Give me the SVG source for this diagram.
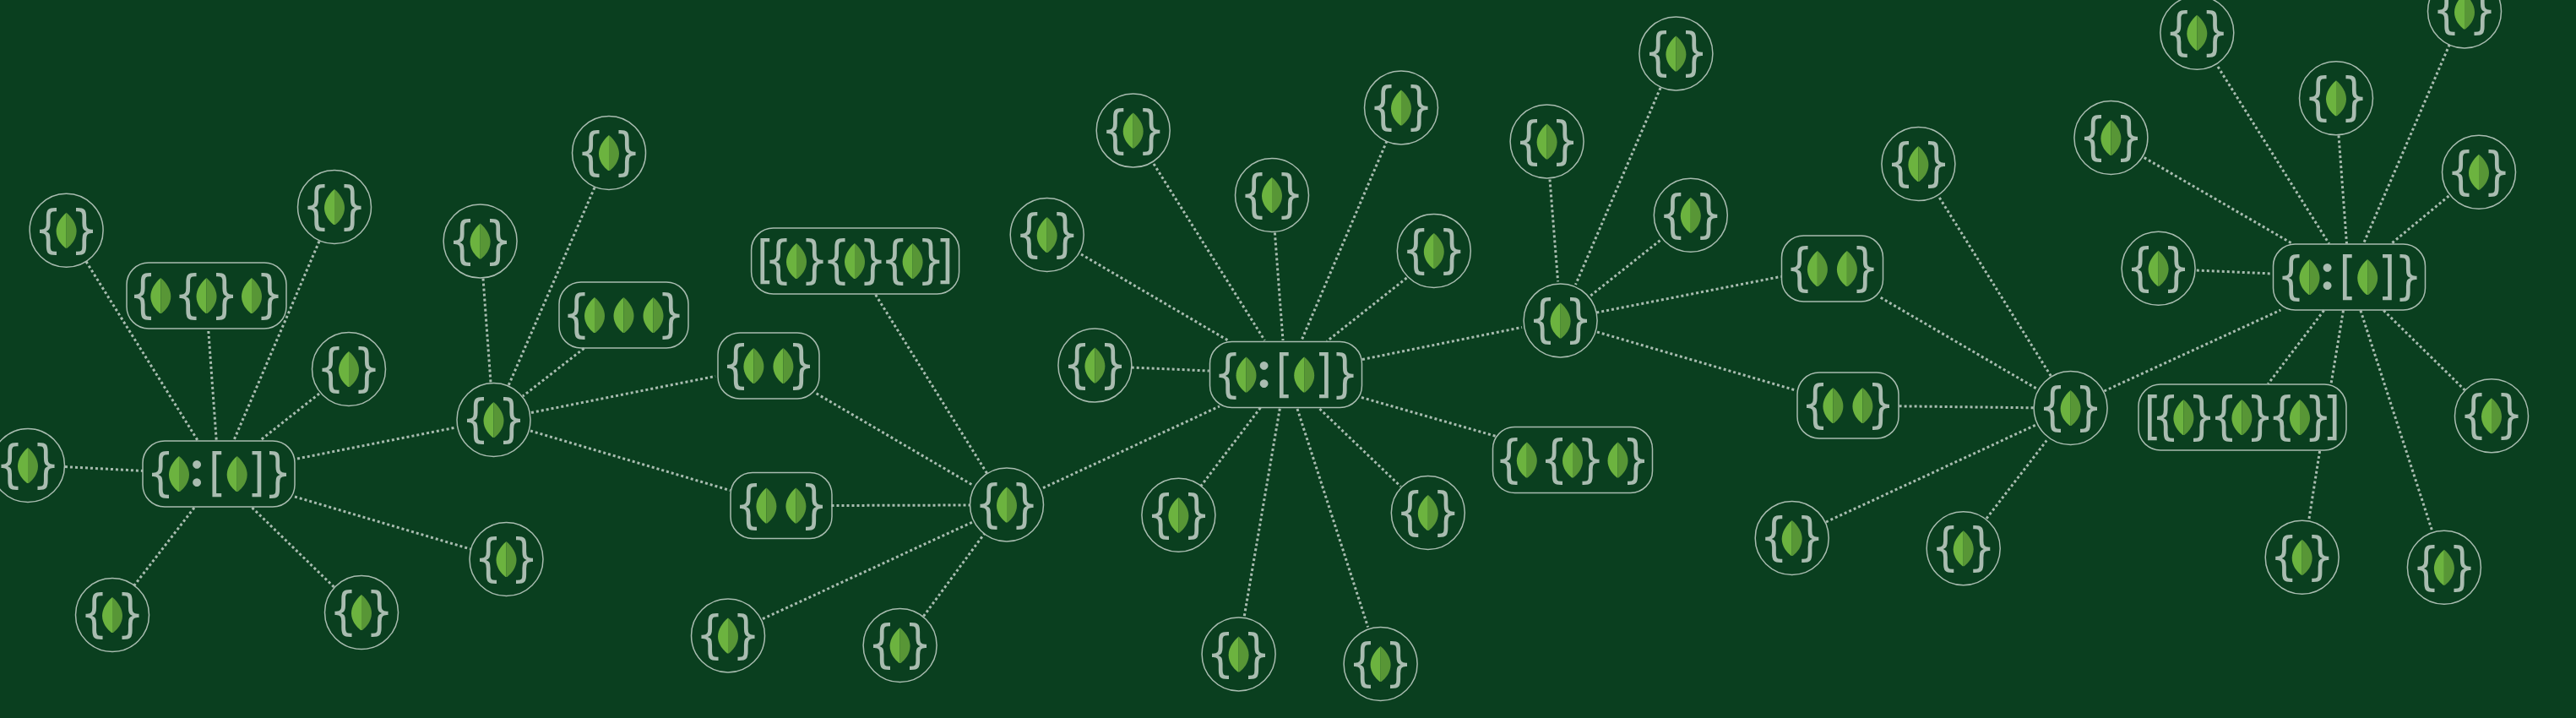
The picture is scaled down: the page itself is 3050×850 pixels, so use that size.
<svg xmlns="http://www.w3.org/2000/svg" width="3050" height="850" viewBox="0 0 3050 850">
<style>
.c,.r{fill:none;stroke:#a9bcb0;stroke-width:1.5}
.t{font-family:"DejaVu Sans",sans-serif;font-size:61px;fill:#a9bcb0;text-anchor:middle;transform:scaleX(.85)}
.k{font-family:"Lato",sans-serif;font-weight:900;font-size:60px;fill:#a9bcb0;text-anchor:middle}
#links line{stroke:#a9bcb0;stroke-width:3;stroke-dasharray:3 3;fill:none}
</style>
<defs>
<g id="leaf"><path fill="#6cb33f" d="M0-21C-7-15-12-7-12 1C-12 10-6 17-1 21L0 21Z"/><path fill="#589636" d="M0-21C7-15 12-7 12 1C12 10 6 17 1 21L0 21Z"/></g>
</defs>
<rect width="3050" height="850" fill="#0a3f1f"/>
<g id="links">
<line x1="102" y1="309.6" x2="233.8" y2="521"/>
<line x1="246.8" y1="392" x2="256.2" y2="521"/>
<line x1="378" y1="285.6" x2="277" y2="521"/>
<line x1="378" y1="466" x2="308.5" y2="521"/>
<line x1="77" y1="552.6" x2="169" y2="557.4"/>
<line x1="352" y1="543" x2="540" y2="506"/>
<line x1="349" y1="588" x2="557" y2="650"/>
<line x1="230" y1="601" x2="159" y2="693"/>
<line x1="298.5" y1="601" x2="395.5" y2="695"/>
<line x1="572" y1="329.7" x2="581" y2="453"/>
<line x1="704" y1="222" x2="602" y2="456.5"/>
<line x1="691.5" y1="412.4" x2="619" y2="469"/>
<line x1="629" y1="488.5" x2="847" y2="445.4"/>
<line x1="628" y1="510" x2="864.6" y2="580.6"/>
<line x1="966.6" y1="465.8" x2="1152" y2="574.5"/>
<line x1="1036.7" y1="349" x2="1169" y2="561"/>
<line x1="984.5" y1="598.5" x2="1148.7" y2="598"/>
<line x1="903" y1="732.7" x2="1153" y2="617.3"/>
<line x1="1093.4" y1="729.6" x2="1165.6" y2="631.6"/>
<line x1="1235" y1="577.6" x2="1444" y2="481"/>
<line x1="1280" y1="301" x2="1454" y2="403"/>
<line x1="1366" y1="194" x2="1497.4" y2="403"/>
<line x1="1509.4" y1="275.5" x2="1519" y2="403"/>
<line x1="1339.7" y1="435" x2="1431.7" y2="439"/>
<line x1="1492.4" y1="482.7" x2="1421.8" y2="575.5"/>
<line x1="1515.3" y1="483.7" x2="1473" y2="731"/>
<line x1="1642" y1="167" x2="1541" y2="403"/>
<line x1="1665.5" y1="329" x2="1571" y2="404"/>
<line x1="1613" y1="425.5" x2="1802" y2="387.5"/>
<line x1="1612" y1="470.5" x2="1771.4" y2="516.5"/>
<line x1="1562.5" y1="484" x2="1658.5" y2="576"/>
<line x1="1536" y1="484" x2="1619.7" y2="742.5"/>
<line x1="1835" y1="212.5" x2="1844.6" y2="333.3"/>
<line x1="1966" y1="104" x2="1865.5" y2="337"/>
<line x1="1965.5" y1="284.6" x2="1882.4" y2="350.7"/>
<line x1="1890.3" y1="370" x2="2108.8" y2="327.4"/>
<line x1="1891" y1="393" x2="2127" y2="462.3"/>
<line x1="2226.7" y1="352.3" x2="2411.8" y2="460.3"/>
<line x1="2296.3" y1="234" x2="2428.2" y2="445"/>
<line x1="2248.6" y1="480.8" x2="2408.3" y2="482.8"/>
<line x1="2162" y1="618" x2="2411.8" y2="502.4"/>
<line x1="2352" y1="613.9" x2="2423.2" y2="521.5"/>
<line x1="2491.4" y1="463" x2="2700.3" y2="367"/>
<line x1="2538.7" y1="186.6" x2="2714.3" y2="288.5"/>
<line x1="2626" y1="79" x2="2757.6" y2="288.5"/>
<line x1="2769" y1="160.3" x2="2778.5" y2="288.5"/>
<line x1="2900.3" y1="52.6" x2="2798.4" y2="288.5"/>
<line x1="2899.4" y1="232" x2="2831.2" y2="288.5"/>
<line x1="2600.8" y1="320" x2="2690.4" y2="324"/>
<line x1="2751.6" y1="367.5" x2="2685.4" y2="454.5"/>
<line x1="2774.5" y1="367.5" x2="2760" y2="454.5"/>
<line x1="2746.6" y1="534" x2="2733.7" y2="615.8"/>
<line x1="2794.9" y1="367.5" x2="2879.5" y2="628"/>
<line x1="2822.2" y1="367.5" x2="2918.2" y2="461.7"/>
</g>
<g id="n1" transform="translate(78.6,272.7)"><circle class="c" r="43.5"/><text class="t" x="-25.3 25.3" y="19">{}</text><use href="#leaf"/></g>
<g id="n2" transform="translate(396,245)"><circle class="c" r="43.5"/><text class="t" x="-25.3 25.3" y="19">{}</text><use href="#leaf"/></g>
<g id="n3" transform="translate(413,437)"><circle class="c" r="43.5"/><text class="t" x="-25.3 25.3" y="19">{}</text><use href="#leaf"/></g>
<g id="n4" transform="translate(33,551)"><circle class="c" r="43.5"/><text class="t" x="-25.3 25.3" y="19">{}</text><use href="#leaf"/></g>
<g id="n5" transform="translate(599.5,662)"><circle class="c" r="43.5"/><text class="t" x="-25.3 25.3" y="19">{}</text><use href="#leaf"/></g>
<g id="n6" transform="translate(428,725)"><circle class="c" r="43.5"/><text class="t" x="-25.3 25.3" y="19">{}</text><use href="#leaf"/></g>
<g id="n7" transform="translate(133,728)"><circle class="c" r="43.5"/><text class="t" x="-25.3 25.3" y="19">{}</text><use href="#leaf"/></g>
<g id="n8" transform="translate(584.5,497)"><circle class="c" r="43.5"/><text class="t" x="-25.3 25.3" y="19">{}</text><use href="#leaf"/></g>
<g id="n9" transform="translate(568.6,285.6)"><circle class="c" r="43.5"/><text class="t" x="-25.3 25.3" y="19">{}</text><use href="#leaf"/></g>
<g id="n10" transform="translate(721,181)"><circle class="c" r="43.5"/><text class="t" x="-25.3 25.3" y="19">{}</text><use href="#leaf"/></g>
<g id="n11" transform="translate(1192,597.5)"><circle class="c" r="43.5"/><text class="t" x="-25.3 25.3" y="19">{}</text><use href="#leaf"/></g>
<g id="n12" transform="translate(862,752.5)"><circle class="c" r="43.5"/><text class="t" x="-25.3 25.3" y="19">{}</text><use href="#leaf"/></g>
<g id="n13" transform="translate(1065.6,764)"><circle class="c" r="43.5"/><text class="t" x="-25.3 25.3" y="19">{}</text><use href="#leaf"/></g>
<g id="n14" transform="translate(1341.7,154.6)"><circle class="c" r="43.5"/><text class="t" x="-25.3 25.3" y="19">{}</text><use href="#leaf"/></g>
<g id="n15" transform="translate(1506,231)"><circle class="c" r="43.5"/><text class="t" x="-25.3 25.3" y="19">{}</text><use href="#leaf"/></g>
<g id="n16" transform="translate(1239.7,278)"><circle class="c" r="43.5"/><text class="t" x="-25.3 25.3" y="19">{}</text><use href="#leaf"/></g>
<g id="n17" transform="translate(1296.4,432.6)"><circle class="c" r="43.5"/><text class="t" x="-25.3 25.3" y="19">{}</text><use href="#leaf"/></g>
<g id="n18" transform="translate(1395.4,609.7)"><circle class="c" r="43.5"/><text class="t" x="-25.3 25.3" y="19">{}</text><use href="#leaf"/></g>
<g id="n19" transform="translate(1466.6,774.5)"><circle class="c" r="43.5"/><text class="t" x="-25.3 25.3" y="19">{}</text><use href="#leaf"/></g>
<g id="n20" transform="translate(1659,127.4)"><circle class="c" r="43.5"/><text class="t" x="-25.3 25.3" y="19">{}</text><use href="#leaf"/></g>
<g id="n21" transform="translate(1697.8,297)"><circle class="c" r="43.5"/><text class="t" x="-25.3 25.3" y="19">{}</text><use href="#leaf"/></g>
<g id="n22" transform="translate(1831.6,167.5)"><circle class="c" r="43.5"/><text class="t" x="-25.3 25.3" y="19">{}</text><use href="#leaf"/></g>
<g id="n23" transform="translate(1984.4,63.4)"><circle class="c" r="43.5"/><text class="t" x="-25.3 25.3" y="19">{}</text><use href="#leaf"/></g>
<g id="n24" transform="translate(2001.8,254.7)"><circle class="c" r="43.5"/><text class="t" x="-25.3 25.3" y="19">{}</text><use href="#leaf"/></g>
<g id="n25" transform="translate(1847.6,379.4)"><circle class="c" r="43.5"/><text class="t" x="-25.3 25.3" y="19">{}</text><use href="#leaf"/></g>
<g id="n26" transform="translate(1690.8,607)"><circle class="c" r="43.5"/><text class="t" x="-25.3 25.3" y="19">{}</text><use href="#leaf"/></g>
<g id="n27" transform="translate(1634.6,786)"><circle class="c" r="43.5"/><text class="t" x="-25.3 25.3" y="19">{}</text><use href="#leaf"/></g>
<g id="n28" transform="translate(2271.4,194)"><circle class="c" r="43.5"/><text class="t" x="-25.3 25.3" y="19">{}</text><use href="#leaf"/></g>
<g id="n29" transform="translate(2121.7,636.9)"><circle class="c" r="43.5"/><text class="t" x="-25.3 25.3" y="19">{}</text><use href="#leaf"/></g>
<g id="n30" transform="translate(2324.7,649.2)"><circle class="c" r="43.5"/><text class="t" x="-25.3 25.3" y="19">{}</text><use href="#leaf"/></g>
<g id="n31" transform="translate(2451.6,483)"><circle class="c" r="43.5"/><text class="t" x="-25.3 25.3" y="19">{}</text><use href="#leaf"/></g>
<g id="n32" transform="translate(2601.3,38.8)"><circle class="c" r="43.5"/><text class="t" x="-25.3 25.3" y="19">{}</text><use href="#leaf"/></g>
<g id="n33" transform="translate(2766,116.3)"><circle class="c" r="43.5"/><text class="t" x="-25.3 25.3" y="19">{}</text><use href="#leaf"/></g>
<g id="n34" transform="translate(2918,13.4)"><circle class="c" r="43.5"/><text class="t" x="-25.3 25.3" y="19">{}</text><use href="#leaf"/></g>
<g id="n35" transform="translate(2935,203.8)"><circle class="c" r="43.5"/><text class="t" x="-25.3 25.3" y="19">{}</text><use href="#leaf"/></g>
<g id="n36" transform="translate(2499.4,163)"><circle class="c" r="43.5"/><text class="t" x="-25.3 25.3" y="19">{}</text><use href="#leaf"/></g>
<g id="n37" transform="translate(2555.6,317.7)"><circle class="c" r="43.5"/><text class="t" x="-25.3 25.3" y="19">{}</text><use href="#leaf"/></g>
<g id="n38" transform="translate(2950,492.3)"><circle class="c" r="43.5"/><text class="t" x="-25.3 25.3" y="19">{}</text><use href="#leaf"/></g>
<g id="n39" transform="translate(2725.7,659.8)"><circle class="c" r="43.5"/><text class="t" x="-25.3 25.3" y="19">{}</text><use href="#leaf"/></g>
<g id="n40" transform="translate(2893.9,671.8)"><circle class="c" r="43.5"/><text class="t" x="-25.3 25.3" y="19">{}</text><use href="#leaf"/></g>

<g id="r1" transform="translate(259,561)"><rect class="r" x="-90" y="-39" width="180" height="78" rx="26"/><text class="t" x="-81.2" y="19">{</text><use href="#leaf" x="-47"/><text class="k" x="-26" y="15">:</text><text class="t" x="-2.1 52.4 82.4" y="19">[]}</text><use href="#leaf" x="21.7"/></g>
<g id="r2" transform="translate(1522.5,443.5)"><rect class="r" x="-90" y="-39" width="180" height="78" rx="26"/><text class="t" x="-81.2" y="19">{</text><use href="#leaf" x="-47"/><text class="k" x="-26" y="15">:</text><text class="t" x="-2.1 52.4 82.4" y="19">[]}</text><use href="#leaf" x="21.7"/></g>
<g id="r3" transform="translate(2781.5,328)"><rect class="r" x="-90" y="-39" width="180" height="78" rx="26"/><text class="t" x="-81.2" y="19">{</text><use href="#leaf" x="-47"/><text class="k" x="-26" y="15">:</text><text class="t" x="-2.1 52.4 82.4" y="19">[]}</text><use href="#leaf" x="21.7"/></g>

<g id="m1" transform="translate(244.5,350)"><rect class="r" x="-94.5" y="-39" width="189" height="78" rx="26"/><text class="t" x="-88.8 -25.9 25.3 88.2" y="19">{{}}</text><use href="#leaf" x="-54.2"/><use href="#leaf"/><use href="#leaf" x="53.5"/></g>
<g id="m2" transform="translate(1862,544.5)"><rect class="r" x="-94.5" y="-39" width="189" height="78" rx="26"/><text class="t" x="-88.8 -25.9 25.3 88.2" y="19">{{}}</text><use href="#leaf" x="-54.2"/><use href="#leaf"/><use href="#leaf" x="53.5"/></g>

<g id="a1" transform="translate(1012.6,309)"><rect class="r" x="-123" y="-39" width="246" height="78" rx="26"/><text class="t" x="-125.3 -107.1 -56.5 -25.9 24.7 54.9 105.5 124.6" y="19">[{}{}{}]</text><use href="#leaf" x="-69.6"/><use href="#leaf" x="-0.6"/><use href="#leaf" x="68"/></g>
<g id="a2" transform="translate(2655,494)"><rect class="r" x="-123" y="-39" width="246" height="78" rx="26"/><text class="t" x="-125.3 -107.1 -56.5 -25.9 24.7 54.9 105.5 124.6" y="19">[{}{}{}]</text><use href="#leaf" x="-69.6"/><use href="#leaf" x="-0.6"/><use href="#leaf" x="68"/></g>

<g id="d1" transform="translate(910,433)"><rect class="r" x="-60" y="-39" width="120" height="78" rx="26"/><text class="t" x="-45.9 45.9" y="19">{}</text><use href="#leaf" x="-17.6"/><use href="#leaf" x="17.4"/></g>
<g id="d2" transform="translate(925,598.5)"><rect class="r" x="-60" y="-39" width="120" height="78" rx="26"/><text class="t" x="-45.9 45.9" y="19">{}</text><use href="#leaf" x="-17.6"/><use href="#leaf" x="17.4"/></g>
<g id="d3" transform="translate(2169.5,318)"><rect class="r" x="-60" y="-39" width="120" height="78" rx="26"/><text class="t" x="-45.9 45.9" y="19">{}</text><use href="#leaf" x="-17.6"/><use href="#leaf" x="17.4"/></g>
<g id="d4" transform="translate(2188,480)"><rect class="r" x="-60" y="-39" width="120" height="78" rx="26"/><text class="t" x="-45.9 45.9" y="19">{}</text><use href="#leaf" x="-17.6"/><use href="#leaf" x="17.4"/></g>

<g id="t1" transform="translate(738.5,373)"><rect class="r" x="-76.5" y="-39" width="153" height="78" rx="26"/><text class="t" x="-65.9 65.9" y="19">{}</text><use href="#leaf" x="-34.5"/><use href="#leaf"/><use href="#leaf" x="35"/></g>
</svg>
